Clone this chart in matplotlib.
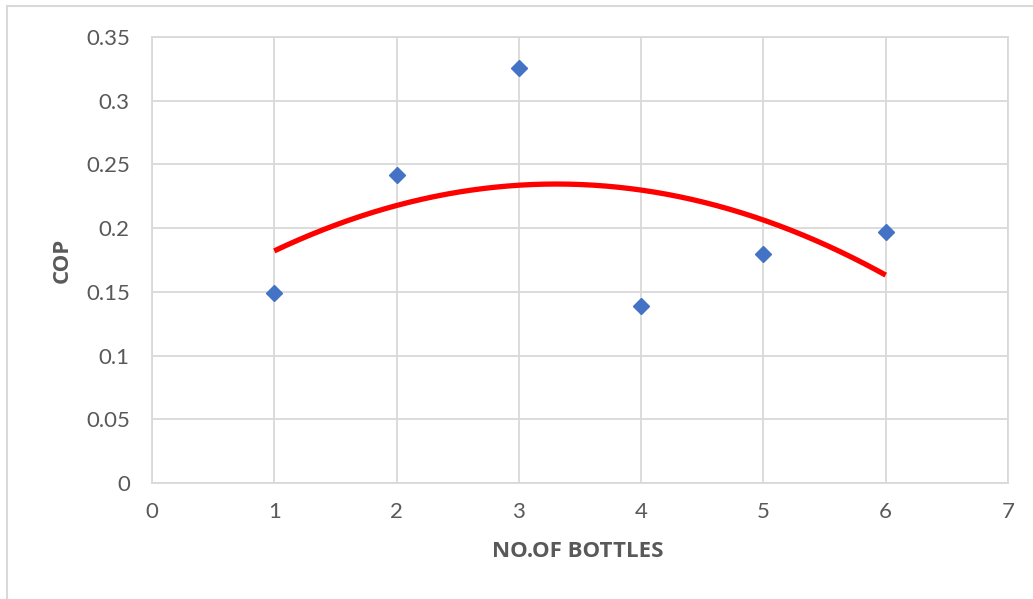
import numpy as np
import matplotlib
matplotlib.use("Agg")
import matplotlib.pyplot as plt
from matplotlib.lines import Line2D

bottles = [1, 2, 3, 4, 5, 6]
cop = [0.149, 0.242, 0.326, 0.139, 0.180, 0.197]
x_ticks = [0, 1, 2, 3, 4, 5, 6, 7]
y_ticks = [0, 0.05, 0.1, 0.15, 0.2, 0.25, 0.3, 0.35]
y_tick_labels = ["0", "0.05", "0.1", "0.15", "0.2", "0.25", "0.3", "0.35"]
x_label = "NO.OF BOTTLES"
y_label = "COP"

plt.rcParams['font.family'] = ['Lato', 'DejaVu Sans']

W, H = 1033, 599
fig = plt.figure(figsize=(W / 100, H / 100), dpi=100)
ax = fig.add_axes([152 / W, (H - 483) / H, 856 / W, 446 / H])

grid_c = "#D9D9D9"
text_c = "#595959"

# Polynomial (order 2) trendline fitted to the data
coef = np.polyfit(bottles, cop, 2)
xs = np.linspace(min(bottles), max(bottles), 200)
ax.plot(xs, np.polyval(coef, xs), color="#FF0000", lw=3.8, solid_capstyle="butt", zorder=3)

ax.plot(bottles, cop, linestyle="none", marker="D", markersize=8.5,
        color="#4472C4", markeredgecolor="#4472C4", zorder=4)

ax.set_xlim(0, 7)
ax.set_ylim(0, 0.35)
ax.set_xticks(x_ticks)
ax.set_yticks(y_ticks)
ax.set_yticklabels(y_tick_labels)
ax.grid(True, color=grid_c, lw=1.3, zorder=0)
ax.set_axisbelow(True)
for s in ax.spines.values():
    s.set_color(grid_c)
    s.set_linewidth(1.3)
ax.tick_params(length=0, colors=text_c, labelsize=16)
ax.tick_params(axis="y", pad=16)
ax.tick_params(axis="x", pad=14)

ax.set_xlabel(x_label, fontsize=16, fontweight="bold", color=text_c,
              family=["Open Sans", "DejaVu Sans"], va="center")
ax.xaxis.set_label_coords(0.4977, -0.1547)
ax.set_ylabel(y_label, fontsize=16, fontweight="bold", color=text_c,
              family=["Open Sans", "DejaVu Sans"], va="center")
ax.yaxis.set_label_coords(-0.105, 0.5)

# outer chart border (partially visible)
fig.add_artist(Line2D([7 / W, 7 / W], [0, 1 - 6 / H], transform=fig.transFigure, color=grid_c, lw=1.5))
fig.add_artist(Line2D([7 / W, 1], [1 - 6 / H, 1 - 6 / H], transform=fig.transFigure, color=grid_c, lw=1.5))

fig.savefig("out.png", dpi=100)
